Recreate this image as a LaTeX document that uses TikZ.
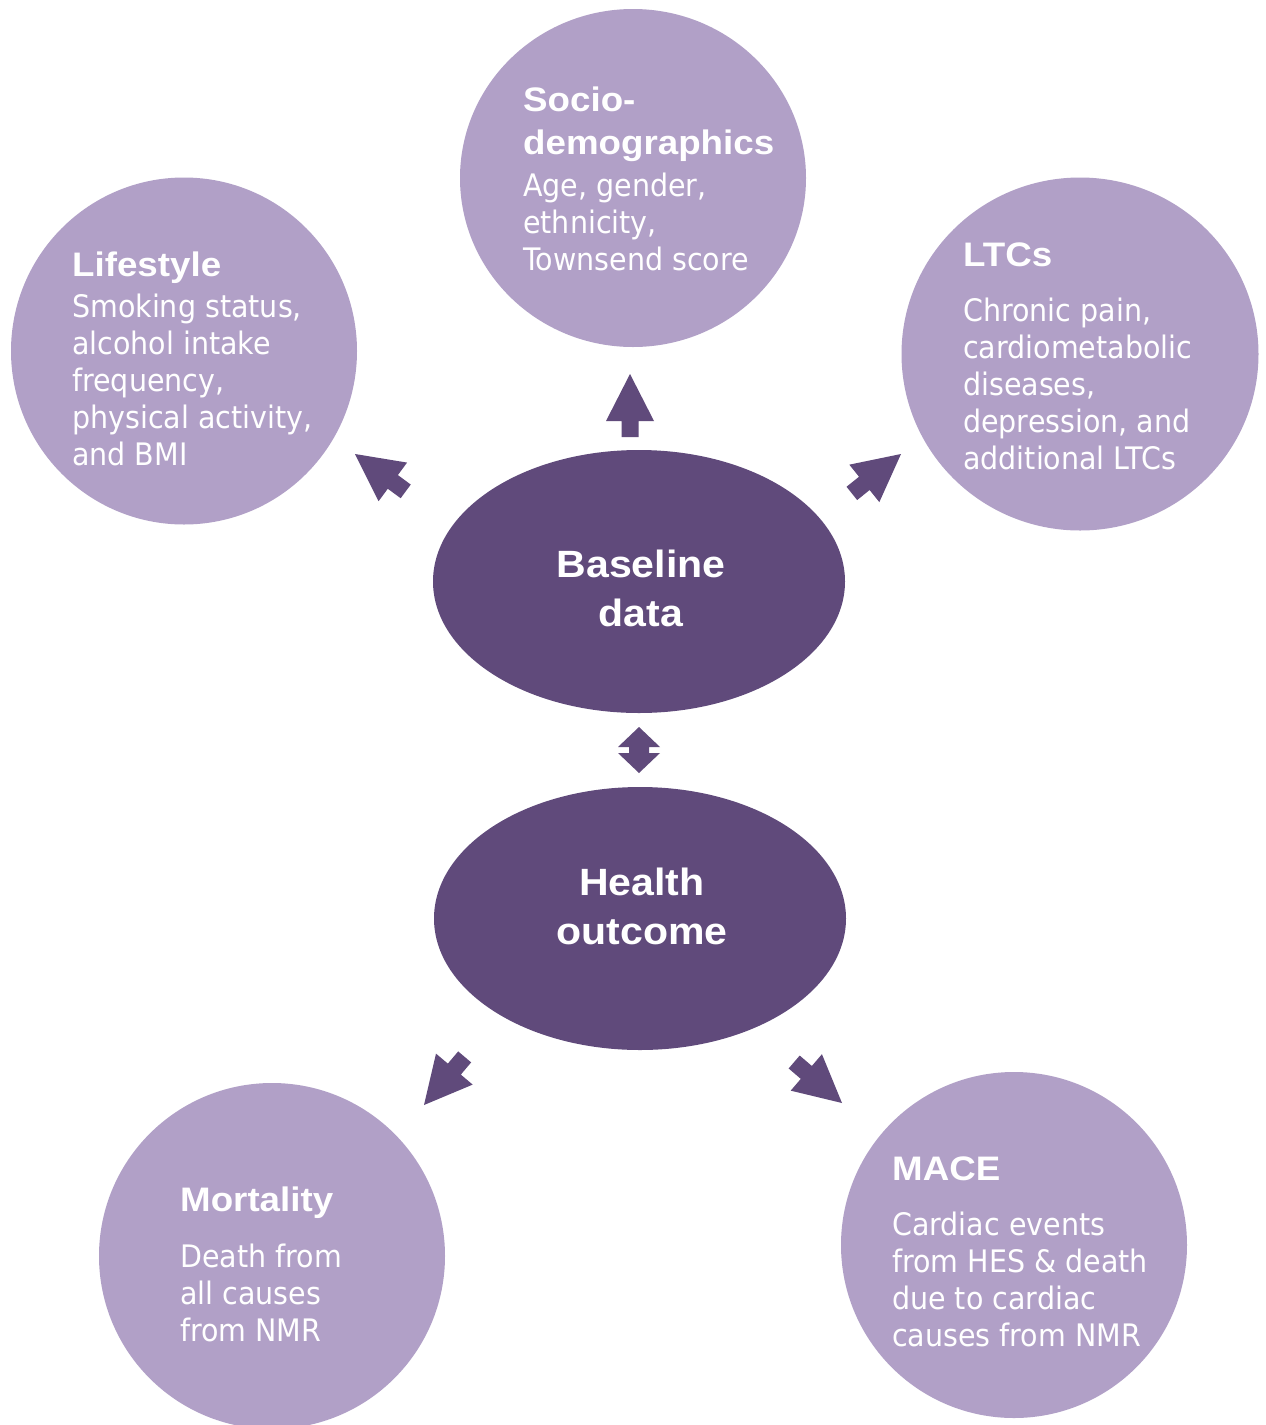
\documentclass[tikz,border=0pt]{standalone}
\usepackage{fontspec}
\usetikzlibrary{shapes.geometric}
\newfontfamily\headfont[FakeStretch=1.08]{Liberation Sans}
\newfontfamily\bodyfont[FakeStretch=0.92]{DejaVu Sans}
\definecolor{lightlilac}{HTML}{B1A0C7}
\definecolor{deeppurple}{HTML}{604A7B}

% heading, extra gap, body lines of a bubble
\newcommand\bubbletext[3]{\vtop{\hsize=420pt\parindent=0pt\parskip=0pt\lineskiplimit=-60pt
  {\headfont\bfseries\fontsize{34}{43}\selectfont #1\par}\vskip#2
  {\bodyfont\fontsize{31}{37}\selectfont #3\par}}}
% centred bold title of a hub
\newcommand\hubtext[1]{\vtop{\hsize=320pt\parindent=0pt\parskip=0pt\centering
  \headfont\bfseries\fontsize{38}{49}\selectfont #1\par}}

\begin{document}
\begin{tikzpicture}[x=1pt,y=-1pt,
  bubble/.style={ellipse, fill=lightlilac, draw=none, inner sep=0pt},
  hub/.style={ellipse, fill=deeppurple, draw=none, inner sep=0pt,
              minimum width=412pt, minimum height=263pt},
  bubbletxt/.style={anchor=base west, inner sep=0pt, text=white},
  hubtxt/.style={anchor=base, inner sep=0pt, text=white},
  pics/blockarrow/.style={code={
    \fill[deeppurple] (0,0) -- (-47,-24) -- (-47,-8.5) -- (-63,-8.5)
      -- (-63,8.5) -- (-47,8.5) -- (-47,24) -- cycle;}},
  pics/twowayarrow/.style={code={
    \fill[deeppurple] (0,0) -- (21,20) -- (10,20) -- (10,26) -- (21,26)
      -- (0,46) -- (-21,26) -- (-10,26) -- (-10,20) -- (-21,20) -- cycle;}}
]
\useasboundingbox (0,0) rectangle (1266,1425);
\fill[white] (0,0) rectangle (1266,1425);
\clip (0,0) rectangle (1266,1425);

% outer bubbles
\node[bubble, minimum width=346pt, minimum height=338pt] (socio) at (633,178) {};
\node[bubble, minimum width=346pt, minimum height=347pt] (life) at (184,351) {};
\node[bubble, minimum width=357pt, minimum height=353pt] (ltc) at (1080,354) {};
\node[bubble, minimum width=346pt, minimum height=346pt] (mort) at (272,1256) {};
\node[bubble, minimum width=346pt, minimum height=346pt] (mace) at (1014,1245) {};

% central hubs
\node[hub] (base) at (639,581.5) {};
\node[hub] (health) at (640,918.5) {};

% texts
\node[bubbletxt] (sociotxt) at (523,111)
  {\bubbletext{Socio-\\demographics}{5pt}{Age, gender,\\ethnicity,\\Townsend score}};
\node[bubbletxt] (lifetxt) at (72,276)
  {\bubbletext{Lifestyle}{4pt}{Smoking status,\\alcohol intake\\frequency,\\physical activity,\\and BMI}};
\node[bubbletxt] (ltctxt) at (963,266)
  {\bubbletext{LTCs}{18.5pt}{Chronic pain,\\cardiometabolic\\diseases,\\depression, and\\additional LTCs}};
\node[bubbletxt] (morttxt) at (180,1211)
  {\bubbletext{Mortality}{19pt}{Death from\\all causes\\from NMR}};
\node[bubbletxt] (macetxt) at (892,1180)
  {\bubbletext{MACE}{18pt}{Cardiac events\\from HES \& death\\due to cardiac\\causes from NMR}};
\node[hubtxt] (basetxt) at (641,577) {\hubtext{Baseline\\data}};
\node[hubtxt] (healthtxt) at (642,895) {\hubtext{Health\\outcome}};

% block arrows
\pic (toSocio) [rotate=90] at (630,374) {blockarrow};
\pic (toLife) [rotate=143.6] at (355,454) {blockarrow};
\pic (toLtc) [rotate=38.7] at (901,454) {blockarrow};
\pic (toMort) [rotate=-130.2] at (424,1105) {blockarrow};
\pic (toMace) [rotate=-40.6] at (842,1103) {blockarrow};
\pic (link) at (639,727) {twowayarrow};
\end{tikzpicture}
\end{document}
